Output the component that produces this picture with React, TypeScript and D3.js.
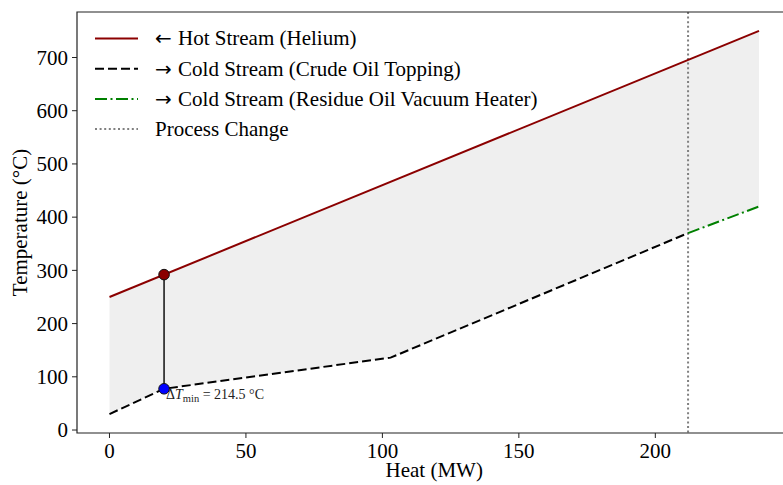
import { useMemo } from "react";
import * as d3 from "d3";

const WIDTH = 783;
const HEIGHT = 485;
// plot box; right edge runs past the canvas like the reference crop
const BOX = { left: 77, right: 791.5, top: 12, bottom: 433 };

const HOT_Q = [0, 238];
const HOT_T = [250, 750];
const COLD_Q = [0, 20, 103, 212];
const COLD_T = [30, 77.5, 136, 370];
const RESIDUE_Q = [212, 238];
const RESIDUE_T = [370, 420];
const PROCESS_CHANGE_Q = 212;
const PINCH_Q = 20;
const DT_MIN = 214.5;

const X_TICKS = [0, 50, 100, 150, 200];
const Y_TICKS = [0, 100, 200, 300, 400, 500, 600, 700];

const LEGEND = [
  { arrow: "\u2190 ", label: "Hot Stream (Helium)", color: "#8b0000", dash: "none", width: 2 },
  { arrow: "\u2192 ", label: "Cold Stream (Crude Oil Topping)", color: "#000", dash: "9,4", width: 2 },
  { arrow: "\u2192 ", label: "Cold Stream (Residue Oil Vacuum Heater)", color: "#008000", dash: "12,3.5,2,3.5", width: 2 },
  { arrow: "", label: "Process Change", color: "#808080", dash: "2,2.6", width: 2 },
];

const FONT = "'Liberation Serif', 'Times New Roman', serif";
const FS = 21;

export default function App() {
  const x = useMemo(
    () => d3.scaleLinear().domain([-11.9, 249.9]).range([BOX.left, BOX.right]),
    []
  );
  const y = useMemo(
    () => d3.scaleLinear().domain([-5.6, 785.5]).range([BOX.bottom, BOX.top]),
    []
  );

  const hotAt = d3.scaleLinear().domain(HOT_Q).range(HOT_T);
  const allColdQ = [...COLD_Q, ...RESIDUE_Q.slice(1)];
  const allColdT = [...COLD_T, ...RESIDUE_T.slice(1)];
  const coldAt = d3.scaleLinear().domain(allColdQ).range(allColdT);

  const line = d3
    .line<[number, number]>()
    .x((d) => x(d[0]))
    .y((d) => y(d[1]));

  const area = d3
    .area<number>()
    .x((q) => x(q))
    .y0((q) => y(coldAt(q)))
    .y1((q) => y(hotAt(q)));

  const hotPinch = hotAt(PINCH_Q);
  const coldPinch = coldAt(PINCH_Q);

  const zip = (a: number[], b: number[]) =>
    a.map((v, i) => [v, b[i]] as [number, number]);

  return (
    <svg
      width={WIDTH}
      height={HEIGHT}
      style={{ position: "absolute", left: 0, top: 0, background: "#fff" }}
      fontFamily={FONT}
    >
      <defs>
        <clipPath id="plot">
          <rect x={BOX.left} y={BOX.top} width={BOX.right - BOX.left} height={BOX.bottom - BOX.top} />
        </clipPath>
      </defs>

      <g clipPath="url(#plot)">
        <path d={area(allColdQ) ?? ""} fill="#efefef" />
        <line
          x1={x(PROCESS_CHANGE_Q)}
          x2={x(PROCESS_CHANGE_Q)}
          y1={BOX.top}
          y2={BOX.bottom}
          stroke="#808080"
          strokeWidth={2}
          strokeDasharray="2,2.6"
        />
        <path d={line(zip(HOT_Q, HOT_T)) ?? ""} fill="none" stroke="#8b0000" strokeWidth={2} />
        <path
          d={line(zip(COLD_Q, COLD_T)) ?? ""}
          fill="none"
          stroke="#000"
          strokeWidth={2}
          strokeDasharray="9,4"
        />
        <path
          d={line(zip(RESIDUE_Q, RESIDUE_T)) ?? ""}
          fill="none"
          stroke="#008000"
          strokeWidth={2}
          strokeDasharray="12,3.5,2,3.5"
        />
        <line
          x1={x(PINCH_Q)}
          x2={x(PINCH_Q)}
          y1={y(hotPinch)}
          y2={y(coldPinch)}
          stroke="#111"
          strokeWidth={1.5}
        />
        <circle cx={x(PINCH_Q)} cy={y(hotPinch)} r={5.3} fill="#8b0000" stroke="#111" strokeWidth={1} />
        <circle cx={x(PINCH_Q)} cy={y(coldPinch)} r={5.3} fill="#0000ff" stroke="#111" strokeWidth={1} />
      </g>

      <text x={x(PINCH_Q) + 2} y={y(coldPinch) + 10} fontSize={14} fill="#222">
        {"\u0394"}
        <tspan fontStyle="italic">T</tspan>
        <tspan fontSize={10.5} dy={3}>min</tspan>
        <tspan dy={-3}>{` = ${DT_MIN} \u00b0C`}</tspan>
      </text>

      {/* spines */}
      <path
        d={`M${BOX.right},${BOX.top}H${BOX.left}V${BOX.bottom}H${BOX.right}`}
        fill="none"
        stroke="#222"
        strokeWidth={1.2}
      />

      {X_TICKS.map((t) => (
        <g key={t} transform={`translate(${x(t)},${BOX.bottom})`}>
          <line y2={5} stroke="#222" strokeWidth={1} />
          <text y={25} textAnchor="middle" fontSize={FS} fill="#000">
            {t}
          </text>
        </g>
      ))}
      {Y_TICKS.map((t) => (
        <g key={t} transform={`translate(${BOX.left},${y(t)})`}>
          <line x2={-5} stroke="#222" strokeWidth={1} />
          <text x={-9} dy="0.34em" textAnchor="end" fontSize={FS} fill="#000">
            {t}
          </text>
        </g>
      ))}

      <text x={(BOX.left + BOX.right) / 2} y={477} textAnchor="middle" fontSize={FS}>
        Heat (MW)
      </text>
      <text
        transform={`translate(27,${(BOX.top + BOX.bottom) / 2}) rotate(-90)`}
        textAnchor="middle"
        fontSize={FS}
      >
        Temperature (°C)
      </text>

      {LEGEND.map((d, i) => {
        const cy = 38.5 + i * 30.2;
        return (
          <g key={d.label}>
            <line
              x1={95}
              x2={138}
              y1={cy}
              y2={cy}
              stroke={d.color}
              strokeWidth={d.width}
              strokeDasharray={d.dash}
            />
            <text x={155} y={cy} dy="0.33em" fontSize={FS} fill="#000">
              {d.arrow && (
                <tspan fontFamily="'DejaVu Sans', sans-serif" fontSize={FS * 0.95}>
                  {d.arrow}
                </tspan>
              )}
              {d.label}
            </text>
          </g>
        );
      })}
    </svg>
  );
}
